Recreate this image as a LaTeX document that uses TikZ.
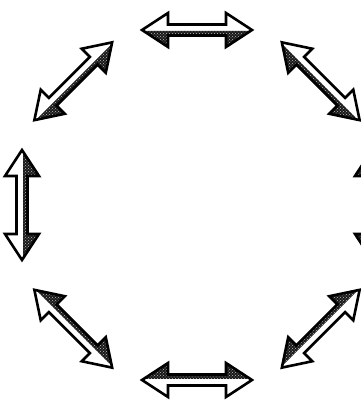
\documentclass[tikz,border=0pt]{standalone}
\usetikzlibrary{patterns}
\tikzset{
  arrowoutline/.style={draw=black, line width=2.6pt, line join=miter},
  arrowshade/.style={preaction={fill=black!90}, pattern=crosshatch dots, pattern color=gray!55},
  dblarrow/.pic={
    \path[fill=white] (-55,0) -- (-29,17) -- (-29,5.5) -- (29,5.5) -- (29,17) -- (55,0)
      -- (29,-17) -- (29,-5.5) -- (-29,-5.5) -- (-29,-17) -- cycle;
    \path[arrowshade] (-53,-1) -- (53,-1) -- (30,-16) -- (30,-5) -- (-30,-5) -- (-30,-16) -- cycle;
    \draw[line width=1.3pt, white] (-45,1.6) -- (45,1.6);
    \path[arrowoutline] (-55,0) -- (-29,17) -- (-29,5.5) -- (29,5.5) -- (29,17) -- (55,0)
      -- (29,-17) -- (29,-5.5) -- (-29,-5.5) -- (-29,-17) -- cycle;
  }
}
\begin{document}
\begin{tikzpicture}[x=1pt,y=1pt]
\useasboundingbox (0,0) rectangle (361,404);
\clip (0,0) rectangle (361,404);
\foreach \a in {0,45,...,315}{
  \pic[transform shape, shift={({197+175*cos(\a)},{199+175*sin(\a)})}, rotate=\a-90] {dblarrow};
}
\end{tikzpicture}
\end{document}
